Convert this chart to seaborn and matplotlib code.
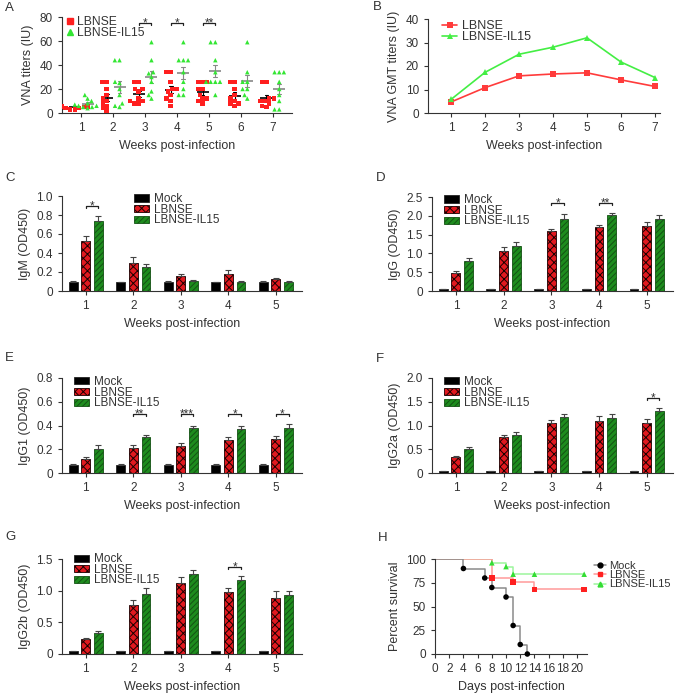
import numpy as np
import pandas as pd
import seaborn as sns
import matplotlib.pyplot as plt
from matplotlib.lines import Line2D
from matplotlib.patches import Patch
from matplotlib.ticker import FuncFormatter, MultipleLocator

# ---- data ----
weeks7 = [1, 2, 3, 4, 5, 6, 7]
weeks5 = [1, 2, 3, 4, 5]
groups2 = ["LBNSE", "LBNSE-IL15"]
groups3 = ["Mock", "LBNSE", "LBNSE-IL15"]

# A: individual VNA titers (IU)
vna_lbnse = {
    1: [3, 3, 4, 4, 5, 5, 5, 6, 6, 6],
    2: [2, 4, 6, 8, 10, 12, 15, 20, 26, 26],
    3: [8, 8, 10, 10, 12, 18, 20, 20, 26, 26],
    4: [6, 10, 12, 15, 18, 20, 20, 26, 34, 34],
    5: [8, 10, 12, 12, 15, 20, 20, 26, 26, 26],
    6: [6, 8, 8, 10, 12, 15, 20, 26, 26],
    7: [5, 6, 8, 10, 10, 12, 12, 26, 26],
}
vna_il15 = {
    1: [4, 5, 5, 6, 6, 7, 8, 10, 12, 15],
    2: [5, 6, 8, 15, 20, 25, 26, 44, 44],
    3: [12, 15, 18, 26, 30, 33, 34, 44, 59],
    4: [15, 15, 20, 26, 34, 44, 44, 44, 59],
    5: [15, 26, 26, 26, 26, 34, 44, 59, 59],
    6: [12, 15, 20, 20, 26, 26, 34, 59],
    7: [3, 3, 10, 15, 20, 26, 34, 34, 34],
}
vna_sig = [(3, "*"), (4, "*"), (5, "**")]

# B: GMT
gmt_lbnse = [4.7, 10.8, 15.8, 16.6, 17.1, 14.1, 11.3]
gmt_il15 = [5.8, 17.3, 25.0, 28.0, 32.0, 21.7, 15.1]

# C-G: ELISA OD450 mean and SEM
igm = {"Mock": [0.10, 0.09, 0.10, 0.09, 0.10],
       "LBNSE": [0.53, 0.30, 0.16, 0.18, 0.13],
       "LBNSE-IL15": [0.74, 0.25, 0.11, 0.10, 0.10]}
igm_sem = {"Mock": [0.01, 0.01, 0.01, 0.01, 0.01],
           "LBNSE": [0.05, 0.06, 0.02, 0.04, 0.01],
           "LBNSE-IL15": [0.05, 0.03, 0.01, 0.01, 0.01]}
igm_sig = [(1, "*")]

igg = {"Mock": [0.04, 0.04, 0.04, 0.04, 0.04],
       "LBNSE": [0.48, 1.07, 1.60, 1.69, 1.74],
       "LBNSE-IL15": [0.79, 1.19, 1.92, 2.01, 1.91]}
igg_sem = {"Mock": [0.0, 0.0, 0.0, 0.0, 0.0],
           "LBNSE": [0.04, 0.10, 0.05, 0.07, 0.09],
           "LBNSE-IL15": [0.08, 0.12, 0.12, 0.07, 0.10]}
igg_sig = [(3, "*"), (4, "**")]

igg1 = {"Mock": [0.07, 0.07, 0.07, 0.07, 0.07],
        "LBNSE": [0.12, 0.21, 0.23, 0.28, 0.29],
        "LBNSE-IL15": [0.20, 0.30, 0.38, 0.37, 0.38]}
igg1_sem = {"Mock": [0.005, 0.005, 0.005, 0.005, 0.005],
            "LBNSE": [0.015, 0.025, 0.025, 0.025, 0.025],
            "LBNSE-IL15": [0.035, 0.02, 0.015, 0.025, 0.035]}
igg1_sig = [(2, "**"), (3, "***"), (4, "*"), (5, "*")]

igg2a = {"Mock": [0.05, 0.05, 0.05, 0.05, 0.05],
         "LBNSE": [0.33, 0.75, 1.05, 1.09, 1.05],
         "LBNSE-IL15": [0.50, 0.80, 1.17, 1.16, 1.31]}
igg2a_sem = {"Mock": [0.0, 0.0, 0.0, 0.0, 0.0],
             "LBNSE": [0.03, 0.06, 0.07, 0.10, 0.09],
             "LBNSE-IL15": [0.05, 0.07, 0.08, 0.09, 0.06]}
igg2a_sig = [(5, "*")]

igg2b = {"Mock": [0.05, 0.05, 0.05, 0.05, 0.05],
         "LBNSE": [0.23, 0.78, 1.12, 0.98, 0.89],
         "LBNSE-IL15": [0.33, 0.94, 1.27, 1.17, 0.93]}
igg2b_sem = {"Mock": [0.0, 0.0, 0.0, 0.0, 0.0],
             "LBNSE": [0.03, 0.07, 0.10, 0.06, 0.10],
             "LBNSE-IL15": [0.04, 0.10, 0.06, 0.06, 0.07]}
igg2b_sig = [(4, "*")]

# H: survival
mock_days = [0, 4, 7, 8, 10, 11, 12, 13]
mock_pct = [100, 90, 80, 70, 60, 30, 10, 0]
lbnse_days = [0, 8, 11, 14, 21]
lbnse_pct = [100, 80, 76, 68, 68]
il15_days = [0, 8, 10, 11, 14, 21]
il15_pct = [100, 96, 92, 84, 84, 84]

# ---- style ----
sns.set_style("ticks")
plt.rcParams["font.family"] = ["Liberation Sans", "DejaVu Sans"]
dark = "#333333"
plt.rcParams.update({
    "text.color": dark, "axes.labelcolor": dark, "axes.edgecolor": dark,
    "xtick.color": dark, "ytick.color": dark, "axes.linewidth": 0.8,
    "xtick.major.size": 3, "ytick.major.size": 3,
    "xtick.major.width": 0.8, "ytick.major.width": 0.8,
    "xtick.labelsize": 8.5, "ytick.labelsize": 8.5, "axes.labelsize": 9,
    "hatch.linewidth": 0.7,
})

scatter_colors = {"LBNSE": "#ff1f1f", "LBNSE-IL15": "#33e633"}
line_colors = {"LBNSE": "#ff3b3b", "LBNSE-IL15": "#44ee44"}
bar_colors = {"Mock": "#000000", "LBNSE": "#e0191f", "LBNSE-IL15": "#1e8c1e"}
bar_edges = {"Mock": "#222222", "LBNSE": "#1a0000", "LBNSE-IL15": "#145214"}
bar_hatch = {"Mock": "", "LBNSE": "xxxx", "LBNSE-IL15": "//////"}

W, H = 676, 693
fig = plt.figure(figsize=(W / 100, H / 100), dpi=100)


def add_ax(left, right, top, bottom):
    return fig.add_axes([left / W, 1 - bottom / H, (right - left) / W, (bottom - top) / H])


def od_fmt(v, p):
    return "0" if abs(v) < 1e-9 else f"{v:.1f}"


def bracket(ax, x1, x2, h, drop, stars):
    ax.plot([x1, x1, x2, x2], [h - drop, h, h, h - drop], color="#222222", lw=0.9, clip_on=False)
    ax.annotate(stars, ((x1 + x2) / 2, h), xytext=(0, -2.5), textcoords="offset points",
                ha="center", va="baseline", fontsize=8.5)


# ---- A ----
axA = add_ax(62, 292, 17, 113)
rowsA = [(w, "LBNSE", v) for w in weeks7 for v in vna_lbnse[w]] + \
        [(w, "LBNSE-IL15", v) for w in weeks7 for v in vna_il15[w]]
dfA = pd.DataFrame(rowsA, columns=["week", "group", "titer"])
for g, m in zip(groups2, ["s", "^"]):
    sns.swarmplot(data=dfA[dfA.group == g], x="week", y="titer", hue="group",
                  hue_order=groups2, order=weeks7, dodge=True, palette=scatter_colors,
                  marker=m, size=3.2, linewidth=0, legend=False, warn_thresh=1, ax=axA)
sns.pointplot(data=dfA, x="week", y="titer", hue="group", hue_order=groups2, order=weeks7,
              dodge=0.4, palette={"LBNSE": "black", "LBNSE-IL15": "#888888"},
              markers="_", markersize=9, markeredgewidth=1.2, linestyle="none",
              errorbar="se", capsize=0.12, err_kws={"linewidth": 0.8}, legend=False, ax=axA)
for w, s in vna_sig:
    i = weeks7.index(w)
    bracket(axA, i - 0.2, i + 0.2, 75, 2, s)
axA.set_ylim(0, 80)
axA.set_xlim(-0.6, 6.6)
axA.yaxis.set_major_locator(MultipleLocator(20))
axA.set_xlabel("Weeks post-infection")
axA.set_ylabel("VNA titers (IU)")
axA.legend(handles=[Line2D([], [], ls="none", marker="s", ms=4.5, color=scatter_colors["LBNSE"]),
                    Line2D([], [], ls="none", marker="^", ms=4.5, color=scatter_colors["LBNSE-IL15"])],
           labels=groups2, loc="upper left", bbox_to_anchor=(0.0, 1.06), frameon=False,
           fontsize=8.7, handlelength=0.6, handletextpad=0.25, labelspacing=-0.05, borderaxespad=0)
sns.despine(ax=axA)

# ---- B ----
axB = add_ax(428, 660, 19, 113)
dfB = pd.DataFrame({"week": weeks7 * 2, "gmt": gmt_lbnse + gmt_il15,
                    "group": ["LBNSE"] * 7 + ["LBNSE-IL15"] * 7})
sns.lineplot(data=dfB, x="week", y="gmt", hue="group", style="group", hue_order=groups2,
             markers={"LBNSE": "s", "LBNSE-IL15": "^"}, dashes=False, palette=line_colors,
             markersize=4, markeredgewidth=0, linewidth=1.2, legend=False, ax=axB)
axB.set_ylim(0, 40)
axB.set_xlim(0.32, 7.15)
axB.set_xticks(weeks7)
axB.yaxis.set_major_locator(MultipleLocator(10))
axB.set_xlabel("Weeks post-infection")
axB.set_ylabel("VNA GMT titers (IU)")
axB.legend(handles=[Line2D([], [], marker="s", ms=4, mew=0, color=line_colors["LBNSE"], lw=1.2),
                    Line2D([], [], marker="^", ms=4, mew=0, color=line_colors["LBNSE-IL15"], lw=1.2)],
           labels=groups2, loc="upper left", bbox_to_anchor=(0.04, 1.04), frameon=False,
           fontsize=9, handlelength=1.2, handletextpad=0.4, labelspacing=-0.1, borderaxespad=0)
sns.despine(ax=axB)


# ---- C-G ----
def bar_panel(ax, means, sems, sig, ymax, step, ylabel, leg_x, leg_y):
    rows = [(w, g, v) for g in groups3 for w, v in zip(weeks5, means[g])]
    df = pd.DataFrame(rows, columns=["week", "group", "value"])
    sns.barplot(data=df, x="week", y="value", hue="group", hue_order=groups3, order=weeks5,
                palette=bar_colors, width=0.8, gap=0.3, errorbar=None, legend=False,
                linewidth=0.6, saturation=1, ax=ax)
    tops = {}
    for cont, g in zip(ax.containers, groups3):
        xs = [p.get_x() + p.get_width() / 2 for p in cont.patches]
        for p in cont.patches:
            p.set_edgecolor(bar_edges[g])
            p.set_hatch(bar_hatch[g])
        ax.errorbar(xs, means[g], yerr=[np.zeros(len(xs)), sems[g]], fmt="none",
                    ecolor="#444444", elinewidth=0.8, capsize=2, capthick=0.8)
        tops[g] = (xs, np.array(means[g]) + np.array(sems[g]))
    idx = [weeks5.index(w) for w, _ in sig]
    h = max(max(tops["LBNSE"][1][i], tops["LBNSE-IL15"][1][i]) for i in idx) + 0.1 * ymax
    for (w, s), i in zip(sig, idx):
        bracket(ax, tops["LBNSE"][0][i], tops["LBNSE-IL15"][0][i], h, 0.02 * ymax, s)
    ax.set_ylim(0, ymax)
    ax.set_xlim(-0.5, 4.55)
    ax.yaxis.set_major_locator(MultipleLocator(step))
    ax.yaxis.set_major_formatter(FuncFormatter(od_fmt))
    ax.set_xlabel("Weeks post-infection")
    ax.set_ylabel(ylabel)
    handles = [Patch(facecolor=bar_colors[g], edgecolor=bar_edges[g], hatch=bar_hatch[g], lw=0.6)
               for g in groups3]
    ax.legend(handles=handles, labels=groups3, loc="upper left", bbox_to_anchor=(leg_x, leg_y),
              frameon=False, fontsize=8.5, handlelength=1.3, handleheight=0.55,
              handletextpad=0.4, labelspacing=-0.12, borderaxespad=0)
    sns.despine(ax=ax)


axC = add_ax(62, 302, 196, 291)
bar_panel(axC, igm, igm_sem, igm_sig, 1.0, 0.2, "IgM (OD450)", 0.28, 1.08)
axD = add_ax(432, 673, 197, 291)
bar_panel(axD, igg, igg_sem, igg_sig, 2.5, 0.5, "IgG (OD450)", 0.03, 1.08)
axE = add_ax(62, 302, 378, 473)
bar_panel(axE, igg1, igg1_sem, igg1_sig, 0.8, 0.2, "IgG1 (OD450)", 0.03, 1.07)
axF = add_ax(432, 673, 378, 473)
bar_panel(axF, igg2a, igg2a_sem, igg2a_sig, 2.0, 0.5, "IgG2a (OD450)", 0.03, 1.07)
axG = add_ax(62, 302, 559, 654)
bar_panel(axG, igg2b, igg2b_sem, igg2b_sig, 1.5, 0.5, "IgG2b (OD450)", 0.03, 1.11)

# ---- H ----
axH = add_ax(435, 587, 559, 654)
dfH = pd.DataFrame({
    "day": il15_days + lbnse_days + mock_days,
    "pct": il15_pct + lbnse_pct + mock_pct,
    "group": ["LBNSE-IL15"] * len(il15_days) + ["LBNSE"] * len(lbnse_days) + ["Mock"] * len(mock_days),
})
surv_lines = {"Mock": "#8a8a8a", "LBNSE": "#ff9a9a", "LBNSE-IL15": "#9cf59c"}
surv_marks = {"Mock": "#000000", "LBNSE": "#ff2020", "LBNSE-IL15": "#33dd33"}
surv_shape = {"Mock": "o", "LBNSE": "s", "LBNSE-IL15": "^"}
order_h = ["LBNSE-IL15", "LBNSE", "Mock"]
sns.lineplot(data=dfH, x="day", y="pct", hue="group", hue_order=order_h, palette=surv_lines,
             drawstyle="steps-post", linewidth=1.1, legend=False, ax=axH)
sns.scatterplot(data=dfH[dfH.day > 0], x="day", y="pct", hue="group", hue_order=order_h,
                style="group", markers=surv_shape, palette=surv_marks, s=16, linewidth=0,
                legend=False, clip_on=False, zorder=3, ax=axH)
axH.set_xlim(0, 21.4)
axH.set_ylim(0, 100)
axH.set_xticks(range(0, 21, 2))
axH.yaxis.set_major_locator(MultipleLocator(25))
axH.set_xlabel("Days post-infection")
axH.set_ylabel("Percent survival")
axH.legend(handles=[Line2D([], [], color=surv_lines[g], lw=1.1, marker=surv_shape[g], ms=3.5,
                           mfc=surv_marks[g], mec=surv_marks[g]) for g in groups3],
           labels=groups3, loc="upper left", bbox_to_anchor=(1.02, 1.03), frameon=False,
           fontsize=8, handlelength=1.0, handletextpad=0.35, labelspacing=-0.05, borderaxespad=0)
sns.despine(ax=axH)

# panel letters
for letter, x, y in [("A", 5, 8), ("B", 373, 7), ("C", 5, 178), ("D", 376, 178),
                     ("E", 5, 358), ("F", 376, 359), ("G", 5, 537), ("H", 378, 538)]:
    fig.text(x / W, 1 - y / H, letter, va="center", ha="left", fontsize=9.5)

fig.savefig("out.png", dpi=100)
